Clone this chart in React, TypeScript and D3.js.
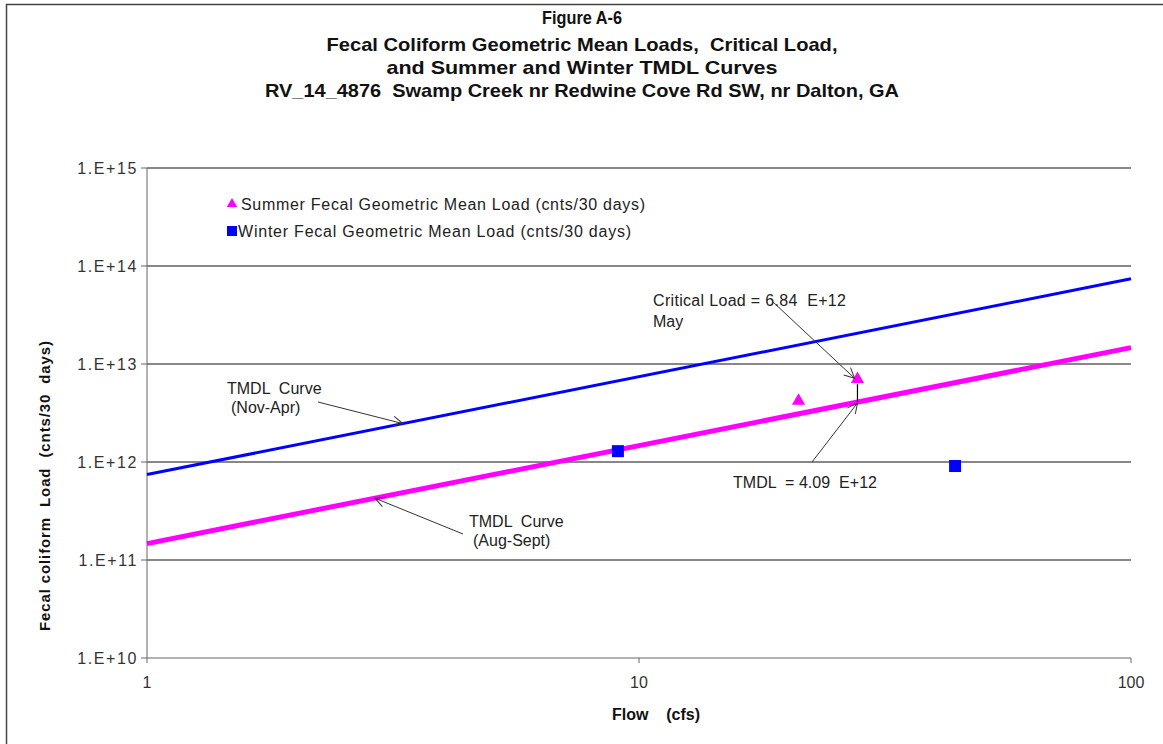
import React from "react";
import * as d3 from "d3";

const titleLines = [
  "Figure A-6",
  "Fecal Coliform Geometric Mean Loads,  Critical Load,",
  "and Summer and Winter TMDL Curves",
  "RV_14_4876  Swamp Creek nr Redwine Cove Rd SW, nr Dalton, GA",
];
const yTicks = [1e10, 1e11, 1e12, 1e13, 1e14, 1e15];
const yTickLabels = ["1.E+10", "1.E+11", "1.E+12", "1.E+13", "1.E+14", "1.E+15"];
const xTicks = [1, 10, 100];
const xTickLabels = ["1", "10", "100"];

const summerFlow = [21.1, 27.8];
const summerLoad = [4.1e12, 6.84e12];
const winterFlow = [9.06, 43.9];
const winterLoad = [1.29e12, 9.1e11];

const curveFlow = [1, 100];
const winterTmdlLoad = [7.45e11, 7.4e13];
const summerTmdlLoad = [1.47e11, 1.47e13];

const criticalFlow = 27.8;
const criticalLoad = 6.84e12;
const tmdlLoad = 4.09e12;

const W = 1163, H = 744;
const M = { left: 147, right: 1131, top: 168, bottom: 658 };

export default function App() {
  const x = d3.scaleLog().domain([1, 100]).range([M.left, M.right]);
  const y = d3.scaleLog().domain([1e10, 1e15]).range([M.bottom, M.top]);
  const line = d3
    .line<[number, number]>()
    .x((d) => x(d[0]))
    .y((d) => y(d[1]));
  const winterPts = curveFlow.map((f, i) => [f, winterTmdlLoad[i]] as [number, number]);
  const summerPts = curveFlow.map((f, i) => [f, summerTmdlLoad[i]] as [number, number]);
  const tri = d3.symbol().type(d3.symbolTriangle).size(75)();
  const triLeg = d3.symbol().type(d3.symbolTriangle).size(48)();

  const onWinter = (f: number) => winterTmdlLoad[0] * f;
  const onSummer = (f: number) => summerTmdlLoad[0] * f;
  const fNov = 3.31, fAug = 2.906;

  const font = "'Liberation Sans', Arial, sans-serif";
  const txt = "#222";
  const arrow = "#333";

  return (
    <svg width={W} height={H} style={{ position: "absolute", left: 0, top: 0, background: "#fff" }} fontFamily={font}>
      <defs>
        <marker id="ah" viewBox="0 0 12 12" refX="11" refY="6" markerWidth="12" markerHeight="12" markerUnits="userSpaceOnUse" orient="auto">
          <path d="M1,1 L11,6 L1,11" fill="none" stroke={arrow} strokeWidth={1} />
        </marker>
      </defs>
      <rect x={0} y={0} width={W} height={H} fill="#fff" />
      <path d={`M6.5,${H + 5} L6.5,4.5 L${W + 5},4.5`} fill="none" stroke="#444" strokeWidth={1.5} />

      {titleLines.map((t, i) => (
        <text key={i} x={582} y={[24, 51, 74, 97][i]} textAnchor="middle" fontWeight="bold" fontSize={19} fill="#111"
          textLength={[80, 511, 391, 634][i]} lengthAdjust="spacingAndGlyphs" style={{ whiteSpace: "pre" }}>
          {t}
        </text>
      ))}

      {/* grid */}
      {yTicks.map((t, i) => (
        <g key={i}>
          <line x1={M.left} x2={M.right} y1={y(t)} y2={y(t)} stroke={i === 0 ? "#666" : "#111"} strokeWidth={1} />
          <line x1={M.left - 6} x2={M.left} y1={y(t)} y2={y(t)} stroke="#666" />
          <text x={M.left - 9} y={y(t) + 6} textAnchor="end" fontSize={16} fill="#333" letterSpacing={1.6}>
            {yTickLabels[i]}
          </text>
        </g>
      ))}
      <line x1={M.left} x2={M.left} y1={M.top} y2={M.bottom} stroke="#666" />
      {xTicks.map((t, i) => (
        <g key={i}>
          <line x1={x(t)} x2={x(t)} y1={M.bottom} y2={M.bottom + 5} stroke="#666" />
          <text x={x(t)} y={M.bottom + 30} textAnchor="middle" fontSize={16} fill="#333">
            {xTickLabels[i]}
          </text>
        </g>
      ))}

      {/* axis titles */}
      <text x={656} y={720} textAnchor="middle" fontWeight="bold" fontSize={16} fill="#111" style={{ whiteSpace: "pre" }}>
        {"Flow    (cfs)"}
      </text>
      <text transform="translate(50,486) rotate(-90)" textAnchor="middle" fontWeight="bold" fontSize={15} fill="#111" style={{ whiteSpace: "pre" }}
        textLength={290} lengthAdjust="spacing">
        {"Fecal coliform  Load  (cnts/30  days)"}
      </text>

      {/* curves */}
      <path d={line(winterPts) || ""} stroke="#0000FF" strokeWidth={3} fill="none" />
      <path d={line(summerPts) || ""} stroke="#FF00FF" strokeWidth={5} fill="none" />

      {/* points */}
      {summerFlow.map((f, i) => (
        <path key={i} d={tri || ""} transform={`translate(${x(f)},${y(summerLoad[i]) - 1})`} fill="#FF00FF" />
      ))}
      {winterFlow.map((f, i) => (
        <rect key={i} x={x(f) - 6} y={y(winterLoad[i]) - 6} width={12} height={12} fill="#0000FF" />
      ))}

      {/* critical vertical connector */}
      <line x1={x(criticalFlow)} x2={x(criticalFlow)} y1={y(criticalLoad) + 4} y2={y(tmdlLoad)} stroke="#000" strokeWidth={1.2} />

      {/* annotations */}
      <text x={653} y={306} fontSize={16} fill={txt} textLength={193} lengthAdjust="spacing" style={{ whiteSpace: "pre" }}>{"Critical Load = 6.84  E+12"}</text>
      <text x={653} y={327} fontSize={16} fill={txt}>May</text>
      <line x1={773} y1={302} x2={x(criticalFlow) - 3} y2={y(criticalLoad) - 2} stroke={arrow} markerEnd="url(#ah)" />

      <text x={733} y={488} fontSize={16} fill={txt} textLength={144} lengthAdjust="spacing" style={{ whiteSpace: "pre" }}>{"TMDL  = 4.09  E+12"}</text>
      <line x1={812} y1={462} x2={x(criticalFlow)} y2={y(tmdlLoad) + 1} stroke={arrow} markerEnd="url(#ah)" />

      <text x={227} y={394} fontSize={16} fill={txt} style={{ whiteSpace: "pre" }}>{"TMDL  Curve"}</text>
      <text x={231} y={413} fontSize={16} fill={txt}>(Nov-Apr)</text>
      <line x1={318} y1={402} x2={x(fNov)} y2={y(onWinter(fNov))} stroke={arrow} markerEnd="url(#ah)" />

      <text x={469} y={527} fontSize={16} fill={txt} style={{ whiteSpace: "pre" }}>{"TMDL  Curve"}</text>
      <text x={473} y={546} fontSize={16} fill={txt}>(Aug-Sept)</text>
      <line x1={463} y1={534} x2={x(fAug)} y2={y(onSummer(fAug))} stroke={arrow} markerEnd="url(#ah)" />

      {/* legend */}
      <path d={triLeg || ""} transform="translate(232,204)" fill="#FF00FF" />
      <text x={241} y={210} fontSize={16} fill={txt} textLength={404} lengthAdjust="spacing">
        Summer Fecal Geometric Mean Load (cnts/30 days)
      </text>
      <rect x={227} y={226} width={10} height={10} fill="#0000FF" />
      <text x={238} y={237} fontSize={16} fill={txt} textLength={393} lengthAdjust="spacing">
        Winter Fecal Geometric Mean Load (cnts/30 days)
      </text>
    </svg>
  );
}
